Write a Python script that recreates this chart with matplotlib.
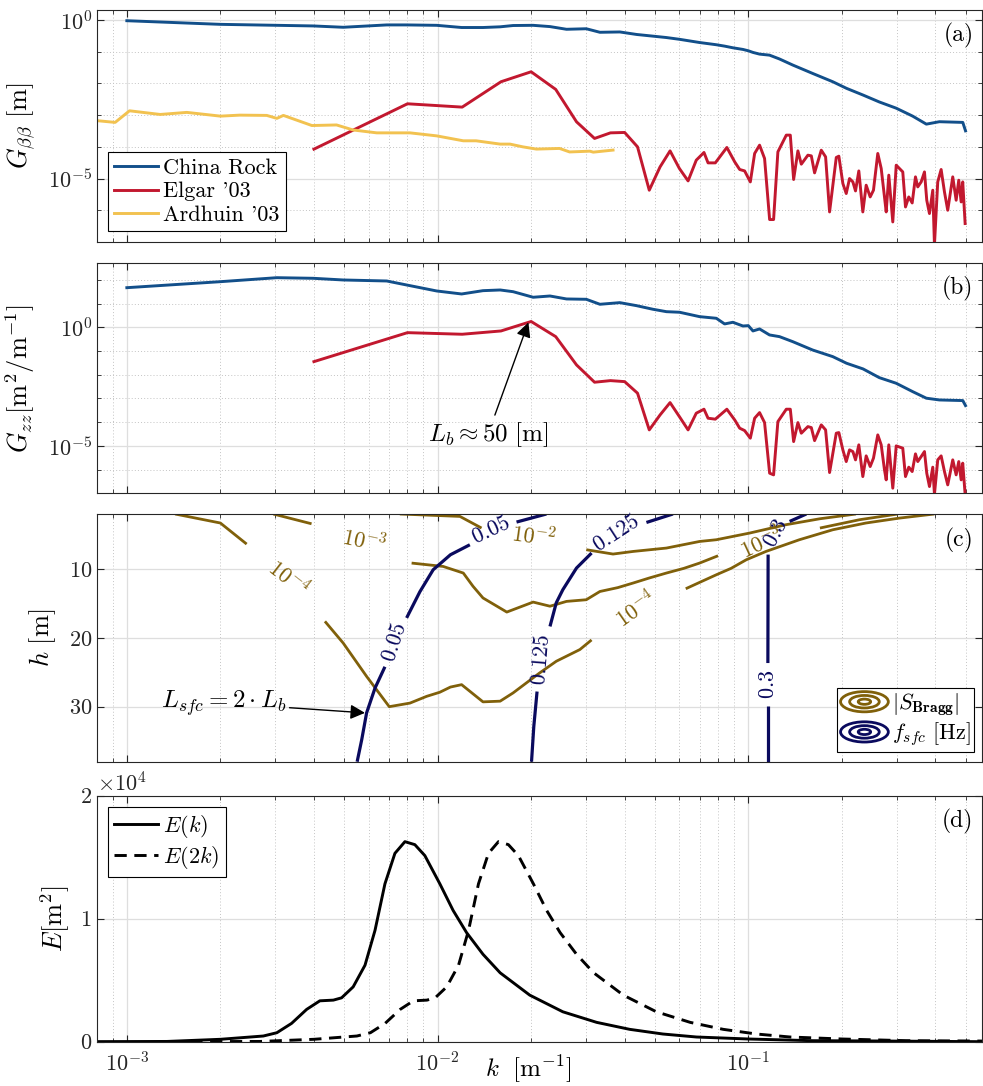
import numpy as np
import matplotlib
matplotlib.use('Agg')
import matplotlib.pyplot as plt
from matplotlib.ticker import (FixedLocator, LogLocator, NullFormatter,
                               ScalarFormatter, NullLocator)
from matplotlib.legend_handler import HandlerBase
from matplotlib.patches import Ellipse
from matplotlib.lines import Line2D

plt.rcParams.update({
    'font.family': 'serif',
    'font.serif': ['cmr10', 'DejaVu Serif'],
    'mathtext.fontset': 'cm',
    'axes.formatter.use_mathtext': True,
    'axes.unicode_minus': False,
    'font.size': 15,
})

# ---------------- data ----------------
# China Rock
cr_k = [1.0e-3, 2.0e-3, 3.04e-3, 3.98e-3, 4.97e-3, 6.86e-3, 7.95e-3, 9.93e-3, 1.195e-2, 1.40e-2,
        1.59e-2, 1.75e-2, 2.03e-2, 2.30e-2, 2.60e-2, 3.01e-2, 3.33e-2, 3.86e-2, 4.37e-2, 4.93e-2,
        5.45e-2, 6.01e-2, 6.97e-2, 7.89e-2, 8.39e-2, 8.92e-2, 9.61e-2, 0.100, 0.1035, 0.1087,
        0.117, 0.126, 0.139, 0.161, 0.187, 0.207, 0.234, 0.264, 0.299, 0.338,
        0.374, 0.412, 0.490, 0.500]
cr_Gbb = [0.95, 0.73, 0.68, 0.65, 0.59, 0.70, 0.70, 0.68, 0.58, 0.58,
          0.61, 0.67, 0.68, 0.62, 0.51, 0.53, 0.41, 0.42, 0.35, 0.31,
          0.28, 0.246, 0.195, 0.166, 0.150, 0.133, 0.118, 0.107, 0.095, 0.084,
          0.078, 0.059, 0.038, 0.0207, 0.0113, 0.0070, 0.0043, 0.0026, 0.00166, 9.3e-4,
          5.2e-4, 6.2e-4, 5.9e-4, 3.2e-4]
cr_Gzz = [46.6, 83.5, 123, 116, 98.5, 89.3, 60.6, 33.9, 25.3, 34.9,
          37.3, 31.6, 18.4, 20.8, 15.6, 15.1, 9.31, 10.9, 8.13, 5.74,
          4.54, 4.29, 2.80, 2.39, 1.38, 1.62, 1.13, 1.17, 0.698, 0.848,
          0.474, 0.402, 0.247, 0.110, 0.0577, 0.0304, 0.0175, 0.0075, 0.00436, 0.00193,
          0.00102, 8.6e-4, 8.1e-4, 4.97e-4]

# Elgar '03
elg_k = [0.004, 0.008, 0.012, 0.016, 0.020, 0.024, 0.028, 0.032, 0.036, 0.040,
         0.044, 0.048, 0.052, 0.056, 0.060, 0.064, 0.068, 0.072,
         0.0742, 0.0783, 0.0853, 0.0904, 0.0938, 0.0973, 0.1015, 0.1048, 0.1087, 0.1128,
         0.1171, 0.1206, 0.1245, 0.1325, 0.1365, 0.1399, 0.1444, 0.1481, 0.1555, 0.1595,
         0.1634, 0.1717, 0.1773, 0.1826, 0.1919, 0.1956, 0.2015, 0.2066, 0.2117, 0.2170,
         0.2213, 0.2268, 0.2336, 0.2395, 0.2467, 0.2528, 0.2610, 0.2677, 0.2743, 0.2778,
         0.2832, 0.2917, 0.2992, 0.3141, 0.3205, 0.3284, 0.3368, 0.3451, 0.3510, 0.3600,
         0.3689, 0.3752, 0.3828, 0.3923, 0.3972, 0.4070, 0.4174, 0.4278, 0.4383, 0.4549,
         0.4665, 0.4756, 0.4841, 0.4898, 0.4986]
elg_Gbb = [8.45e-5, 2.28e-3, 1.79e-3, 1.13e-2, 2.33e-2, 6.48e-3, 6.15e-4, 1.84e-4, 2.76e-4, 2.84e-4,
           1.0e-4, 4.29e-6, 2.33e-5, 7.46e-5, 2.08e-5, 8.43e-6, 3.8e-5, 6.65e-5,
           3.12e-5, 3.12e-5, 9.55e-5, 3.36e-5, 1.93e-5, 1.74e-5, 7.84e-6, 6.18e-5, 1.13e-4, 4.3e-5,
           5.09e-7, 5.09e-7, 6.95e-5, 2.34e-4, 2.34e-4, 9.33e-6, 7.46e-5, 2.84e-5, 5.46e-5, 5.19e-5,
           1.51e-5, 7.85e-5, 4.83e-5, 8.85e-7, 4.62e-5, 5.08e-5, 6.98e-6, 3.37e-6, 1.0e-5, 7.84e-6,
           4.07e-6, 1.74e-5, 8.85e-7, 6.17e-6, 2.63e-6, 4.29e-6, 6.18e-5, 2.08e-5, 2.63e-6, 8.85e-7,
           1.28e-5, 4.28e-7, 2.64e-5, 1.62e-5, 1.27e-6, 2.63e-6, 1.70e-6, 1.13e-5, 5.45e-6, 7.84e-6,
           1.62e-5, 2.07e-6, 7.87e-7, 4.29e-6, 8e-8, 7.84e-6, 1.93e-5, 3.79e-6, 1.0e-6, 1.13e-5,
           2.07e-6, 8.87e-6, 1.83e-6, 7.84e-6, 3.81e-7]
elg_Gzz = [3.55e-2, 0.592, 0.507, 0.698, 1.75, 0.402, 2.58e-2, 4.81e-3, 5.62e-3, 5.10e-3,
           1.66e-3, 4.7e-5, 2.01e-4, 6.65e-4, 1.71e-4, 4.7e-5, 2.38e-4, 3.5e-4,
           1.46e-4, 1.33e-4, 3.5e-4, 1.24e-4, 5.55e-5, 4.4e-5, 2.1e-5, 1.46e-4, 2.52e-4, 9.55e-5,
           7.03e-7, 5.97e-7, 1.05e-4, 3.5e-4, 3.5e-4, 1.51e-5, 9.55e-5, 3.41e-5, 6.47e-5, 5.87e-5,
           1.66e-5, 7.64e-5, 4.7e-5, 7.46e-7, 3.41e-5, 3.62e-5, 6.75e-6, 2.17e-6, 6.75e-6, 5.73e-6,
           2.56e-6, 1.10e-5, 5.06e-7, 3.77e-6, 1.34e-6, 3.02e-6, 2.89e-5, 1.10e-5, 9.7e-7, 3.67e-7,
           1.10e-5, 1.64e-7, 9.95e-6, 7.96e-6, 5.06e-7, 1.26e-6, 8.22e-7, 4.58e-6, 2.17e-6, 3.52e-6,
           5.73e-6, 7.03e-7, 1.92e-7, 1.26e-6, 9e-8, 2.56e-6, 3.77e-6, 8.22e-7, 2.26e-7, 2.56e-6,
           5.97e-7, 2.17e-6, 3.67e-7, 1.86e-6, 9e-8]

# Ardhuin '03
ard_k = [7.0e-4, 9.17e-4, 1.02e-3, 1.28e-3, 1.56e-3, 2.0e-3, 2.31e-3, 2.82e-3, 3.04e-3, 3.19e-3,
         3.94e-3, 4.73e-3, 5.35e-3, 6.37e-3, 8.15e-3, 9.93e-3, 1.21e-2, 1.33e-2, 1.59e-2, 1.71e-2,
         1.88e-2, 2.08e-2, 2.47e-2, 2.66e-2, 3.09e-2, 3.17e-2, 3.67e-2]
ard_G = [7.6e-4, 5.9e-4, 1.37e-3, 1.05e-3, 1.22e-3, 9.3e-4, 1.0e-3, 9.8e-4, 7.9e-4, 9.8e-4,
         4.7e-4, 4.9e-4, 3.4e-4, 2.76e-4, 2.76e-4, 2.22e-4, 1.55e-4, 1.55e-4, 1.22e-4, 1.22e-4,
         1.0e-4, 8.5e-5, 8.9e-5, 6.9e-5, 7.3e-5, 6.8e-5, 7.9e-5]

# Panel (c): contour lines of |S_Bragg| (k, h), split at label gaps
sb4_a_k = [1.43e-3, 2.0e-3, 2.43e-3]
sb4_a_h = [2.0, 3.31, 6.37]
sb4_b_k = [4.34e-3, 4.97e-3, 5.91e-3, 6.99e-3, 8.15e-3, 9.22e-3, 1.017e-2, 1.10e-2, 1.195e-2,
           1.40e-2, 1.59e-2, 1.75e-2, 2.13e-2, 2.41e-2, 2.87e-2, 3.13e-2]
sb4_b_h = [17.6, 20.76, 25.6, 30.0, 29.48, 28.5, 27.9, 27.15, 26.8,
           29.3, 29.2, 28.0, 25.1, 23.4, 21.7, 20.3]
sb4_c_k = [6.29e-2, 7.0e-2, 7.89e-2, 8.8e-2, 9.85e-2, 0.114, 0.146, 0.187, 0.239, 0.307, 0.397]
sb4_c_h = [12.86, 11.9, 10.83, 9.9, 8.65, 7.44, 5.74, 4.29, 3.31, 2.59, 2.0]
sb3_a_k = [2.96e-3, 3.93e-3]
sb3_a_h = [2.0, 3.42]
sb3_b_k = [8.25e-3, 1.042e-2, 1.21e-2, 1.30e-2, 1.40e-2, 1.67e-2, 2.03e-2, 2.30e-2, 2.60e-2,
           3.01e-2, 3.33e-2, 3.8e-2, 4.26e-2, 4.8e-2, 5.45e-2, 6.2e-2, 6.97e-2, 7.99e-2]
sb3_b_h = [9.13, 9.62, 10.58, 12.5, 14.2, 16.25, 14.8, 15.4, 14.7,
           14.46, 13.26, 12.7, 12.03, 11.3, 10.58, 9.9, 9.13, 8.07]
sb3_c_k = [0.170, 0.228, 0.303]
sb3_c_h = [4.04, 2.83, 2.0]
sb2_a_k = [7.56e-3, 1.18e-2, 1.385e-2]
sb2_a_h = [2.0, 2.35, 4.04]
sb2_b_k = [3.01e-2, 3.67e-2, 4.26e-2, 5.45e-2, 6.97e-2, 7.89e-2, 0.101, 0.132, 0.170, 0.222]
sb2_b_h = [7.19, 7.82, 7.44, 6.95, 5.99, 5.74, 4.77, 3.56, 2.69, 2.0]

# Panel (c): contour lines of f_sfc [Hz]
f05_a_k = [5.51e-3, 5.70e-3, 5.91e-3, 6.29e-3, 6.77e-3]
f05_a_h = [38.0, 34.8, 30.9, 27.3, 24.2]
f05_b_k = [7.95e-3, 8.77e-3, 9.68e-3, 1.10e-2, 1.27e-2]
f05_b_h = [17.1, 13.3, 10.1, 7.92, 6.47]
f05_c_k = [1.795e-2, 2.24e-2]
f05_c_h = [3.17, 2.0]
f125_a_k = [2.006e-2, 2.04e-2, 2.09e-2]
f125_a_h = [38.0, 32.9, 27.8]
f125_b_k = [2.30e-2, 2.41e-2, 2.53e-2, 2.80e-2, 3.13e-2]
f125_b_h = [18.34, 14.9, 13.0, 9.85, 7.67]
f125_c_k = [4.70e-2, 5.72e-2]
f125_c_h = [3.23, 2.0]
f3_a_k = [0.1156, 0.1156]
f3_a_h = [38.0, 29.97]
f3_b_k = [0.1156, 0.1158]
f3_b_h = [23.66, 7.9]
f3_c_k = [0.1358, 0.1537]
f3_c_h = [3.08, 2.0]

# Panel (d): energy spectrum
E_k = [8.0e-4, 1.345e-3, 2.0e-3, 2.75e-3, 3.04e-3, 3.39e-3, 3.79e-3, 4.18e-3, 4.62e-3, 4.91e-3,
       5.35e-3, 5.84e-3, 6.29e-3, 6.77e-3, 7.29e-3, 7.85e-3, 8.45e-3, 9.10e-3, 1.017e-2, 1.122e-2,
       1.24e-2, 1.40e-2, 1.59e-2, 1.98e-2, 2.53e-2, 3.25e-2, 4.15e-2, 5.31e-2, 6.81e-2, 0.1,
       0.161, 0.264, 0.567]
E_vals = [5, 20, 194, 462, 730, 1490, 2626, 3323, 3380, 3566,
          4457, 6216, 9052, 12836, 15316, 16264, 16021, 15130, 12836, 10673,
          8865, 7107, 5600, 3785, 2431, 1572, 1005, 624, 381, 219,
          81, 57, 0]

# ---------------- style ----------------
C_BLUE = '#124f8a'
C_RED = '#c2182f'
C_YEL = '#f2c250'
C_BROWN = '#80600a'
C_NAVY = '#0a0a5e'
SPINE = '#262626'
XLIM = (8e-4, 0.563)
TICK_FS = 16
LAB_FS = 19
LEG_FS = 16
ANN_FS = 18
PNL_FS = 17

fig = plt.figure(figsize=(9.83, 10.86), dpi=100)
L, W = 0.0984, 0.9001
ax_a = fig.add_axes([L, 0.7772, W, 0.2136])
ax_b = fig.add_axes([L, 0.5458, W, 0.2118])
ax_c = fig.add_axes([L, 0.2986, W, 0.2281])
ax_d = fig.add_axes([L, 0.0408, W, 0.2265])


def style(ax, bottom_labels=False):
    ax.set_xscale('log')
    ax.set_xlim(*XLIM)
    ax.xaxis.set_major_locator(LogLocator(base=10, numticks=10))
    ax.xaxis.set_minor_locator(LogLocator(base=10, subs=np.arange(2, 10), numticks=20))
    ax.xaxis.set_minor_formatter(NullFormatter())
    ax.grid(which='major', color='#dedede', lw=0.9, ls='-')
    ax.grid(which='minor', axis='x', color='#c4c4c4', lw=0.7, ls=(0, (1, 2.2)))
    ax.tick_params(which='both', direction='in', top=True, right=True,
                   labelsize=TICK_FS, color=SPINE, labelcolor='#262626')
    ax.tick_params(which='major', length=5, width=0.8)
    ax.tick_params(which='minor', length=3, width=0.6)
    if not bottom_labels:
        ax.tick_params(labelbottom=False)
    for s in ax.spines.values():
        s.set_color(SPINE)
        s.set_linewidth(0.8)
    ax.set_axisbelow(True)


def logy(ax, ylim):
    ax.set_yscale('log')
    ax.set_ylim(*ylim)
    ax.yaxis.set_major_locator(FixedLocator([1e-5, 1.0]))
    ax.yaxis.set_minor_locator(LogLocator(base=10, subs=(1.0,), numticks=40))
    ax.yaxis.set_minor_formatter(NullFormatter())
    ax.grid(which='minor', axis='y', color='#c4c4c4', lw=0.7, ls=(0, (1, 2.2)))


LW = 2.1

# ---------- (a) ----------
style(ax_a)
logy(ax_a, (1e-7, 2.07))
ax_a.plot(cr_k, cr_Gbb, color=C_BLUE, lw=LW, label='China Rock')
ax_a.plot(elg_k, elg_Gbb, color=C_RED, lw=LW, label="Elgar '03")
ax_a.plot(ard_k, ard_G, color=C_YEL, lw=LW, label="Ardhuin '03")
leg = ax_a.legend(loc='lower left', bbox_to_anchor=(0.013, 0.047), borderaxespad=0,
                  fontsize=LEG_FS, frameon=True, fancybox=False, edgecolor='k', framealpha=1,
                  handlelength=1.95, handletextpad=0.25, labelspacing=0.18, borderpad=0.28)
leg.get_frame().set_linewidth(0.8)
ax_a.set_ylabel(r'$G_{\beta\beta}\ [\mathrm{m}]$', fontsize=LAB_FS)
ax_a.yaxis.set_label_coords(-0.067, 0.5)
ax_a.text(0.991, 0.945, '(a)', transform=ax_a.transAxes, ha='right', va='top', fontsize=PNL_FS)

# ---------- (b) ----------
style(ax_b)
logy(ax_b, (1e-7, 500))
ax_b.plot(cr_k, cr_Gzz, color=C_BLUE, lw=LW)
ax_b.plot(elg_k, elg_Gzz, color=C_RED, lw=LW)
ax_b.annotate(r'$L_b \approx 50\ [\mathrm{m}]$', xy=(0.0196, 1.6), xytext=(0.0145, 2.9e-5),
              ha='center', va='center', fontsize=ANN_FS,
              arrowprops=dict(arrowstyle='-|>', color='k', lw=1.0, mutation_scale=22,
                              shrinkA=2, shrinkB=0))
ax_b.set_ylabel(r'$G_{zz}[\mathrm{m}^2/\mathrm{m}^{-1}]$', fontsize=LAB_FS)
ax_b.yaxis.set_label_coords(-0.067, 0.5)
ax_b.text(0.991, 0.945, '(b)', transform=ax_b.transAxes, ha='right', va='top', fontsize=PNL_FS)

# ---------- (c) ----------
style(ax_c)
ax_c.set_ylim(38, 2)
ax_c.set_yticks([10, 20, 30])
ax_c.yaxis.set_minor_locator(NullLocator())
for kk, hh in [(sb4_a_k, sb4_a_h), (sb4_b_k, sb4_b_h), (sb4_c_k, sb4_c_h),
               (sb3_a_k, sb3_a_h), (sb3_b_k, sb3_b_h), (sb3_c_k, sb3_c_h),
               (sb2_a_k, sb2_a_h), (sb2_b_k, sb2_b_h)]:
    ax_c.plot(kk, hh, color=C_BROWN, lw=2.0, solid_capstyle='butt')
for kk, hh in [(f05_a_k, f05_a_h), (f05_b_k, f05_b_h), (f05_c_k, f05_c_h),
               (f125_a_k, f125_a_h), (f125_b_k, f125_b_h), (f125_c_k, f125_c_h),
               (f3_a_k, f3_a_h), (f3_b_k, f3_b_h), (f3_c_k, f3_c_h)]:
    ax_c.plot(kk, hh, color=C_NAVY, lw=2.3, solid_capstyle='butt')

brown_labels = [(3.31e-3, 11.3, -38, r'$10^{-4}$'),
                (5.77e-3, 6.0, -12, r'$10^{-3}$'),
                (2.03e-2, 5.3, -8, r'$10^{-2}$'),
                (4.37e-2, 15.9, 35, r'$10^{-4}$'),
                (0.1105, 6.2, 25, r'$10^{-3}$')]
for kk, hh, rot, s in brown_labels:
    ax_c.text(kk, hh, s, color=C_BROWN, fontsize=16, rotation=rot,
              ha='center', va='center', rotation_mode='anchor')
navy_labels = [(7.29e-3, 20.7, 72, r'$0.05$'),
               (1.49e-2, 4.3, 25, r'$0.05$'),
               (2.16e-2, 23.2, 85, r'$0.125$'),
               (3.76e-2, 4.8, 33, r'$0.125$'),
               (0.1156, 26.8, 90, r'$0.3$'),
               (0.123, 4.8, 62, r'$0.3$')]
for kk, hh, rot, s in navy_labels:
    ax_c.text(kk, hh, s, color=C_NAVY, fontsize=16, rotation=rot,
              ha='center', va='center', rotation_mode='anchor')

ax_c.annotate(r'$L_{sfc} = 2\cdot L_b$', xy=(5.84e-3, 30.9), xytext=(3.27e-3, 29.5),
              ha='right', va='center', fontsize=ANN_FS,
              arrowprops=dict(arrowstyle='-|>', color='k', lw=1.0, mutation_scale=22,
                              shrinkA=0, shrinkB=0))


class ConcentricHandler(HandlerBase):
    def __init__(self, color):
        super().__init__()
        self.color = color

    def create_artists(self, legend, orig_handle, xdescent, ydescent, width, height,
                       fontsize, trans):
        cx = width / 2 - xdescent
        cy = height / 2 - ydescent
        arts = []
        for f in (1.0, 0.62, 0.26):
            arts.append(Ellipse((cx, cy), width * f, height * 1.3 * f, fill=False,
                                edgecolor=self.color, lw=2.0, transform=trans))
        return arts


h1 = Line2D([], [])
h2 = Line2D([], [])
leg_c = ax_c.legend([h1, h2], [r'$|S_{\mathbf{Bragg}}|$', r'$f_{sfc}\ [\mathrm{Hz}]$'],
                    handler_map={h1: ConcentricHandler(C_BROWN), h2: ConcentricHandler(C_NAVY)},
                    loc='lower right', bbox_to_anchor=(0.991, 0.04), borderaxespad=0,
                    fontsize=16, fancybox=False, edgecolor='k', framealpha=1,
                    handlelength=2.15, handleheight=0.7, handletextpad=0.15,
                    labelspacing=0.1, borderpad=0.15)
leg_c.get_frame().set_linewidth(0.8)
ax_c.set_ylabel(r'$h\ [\mathrm{m}]$', fontsize=LAB_FS)
ax_c.yaxis.set_label_coords(-0.044, 0.5)
ax_c.text(0.991, 0.945, '(c)', transform=ax_c.transAxes, ha='right', va='top', fontsize=PNL_FS)

# ---------- (d) ----------
style(ax_d, bottom_labels=True)
ax_d.tick_params(axis='x', which='major', pad=7)
ax_d.set_ylim(0, 2e4)
ax_d.set_yticks([0, 1e4, 2e4])
ax_d.yaxis.set_minor_locator(NullLocator())
fmt = ScalarFormatter(useMathText=True)
fmt.set_powerlimits((0, 0))
ax_d.yaxis.set_major_formatter(fmt)
ax_d.yaxis.get_offset_text().set_fontsize(TICK_FS)
ax_d.plot(E_k, E_vals, color='k', lw=LW, label=r'$E(k)$')
ax_d.plot(2 * np.array(E_k), E_vals, color='k', lw=LW, dashes=(4.2, 2.6), label=r'$E(2k)$')
leg_d = ax_d.legend(loc='upper left', bbox_to_anchor=(0.013, 0.955), borderaxespad=0,
                    fontsize=LEG_FS, fancybox=False, edgecolor='k', framealpha=1,
                    handlelength=1.95, handletextpad=0.25, labelspacing=0.18, borderpad=0.28)
leg_d.get_frame().set_linewidth(0.8)
ax_d.set_ylabel(r'$E[\mathrm{m}^2]$', fontsize=LAB_FS)
ax_d.yaxis.set_label_coords(-0.028, 0.5)
ax_d.set_xlabel(r'$k\ \ [\mathrm{m}^{-1}]$', fontsize=18)
ax_d.xaxis.label.set_va('center')
ax_d.xaxis.set_label_coords(0.488, -0.112)
ax_d.text(0.991, 0.945, '(d)', transform=ax_d.transAxes, ha='right', va='top', fontsize=PNL_FS)

fig.savefig('out.png', dpi=100, facecolor='white')
